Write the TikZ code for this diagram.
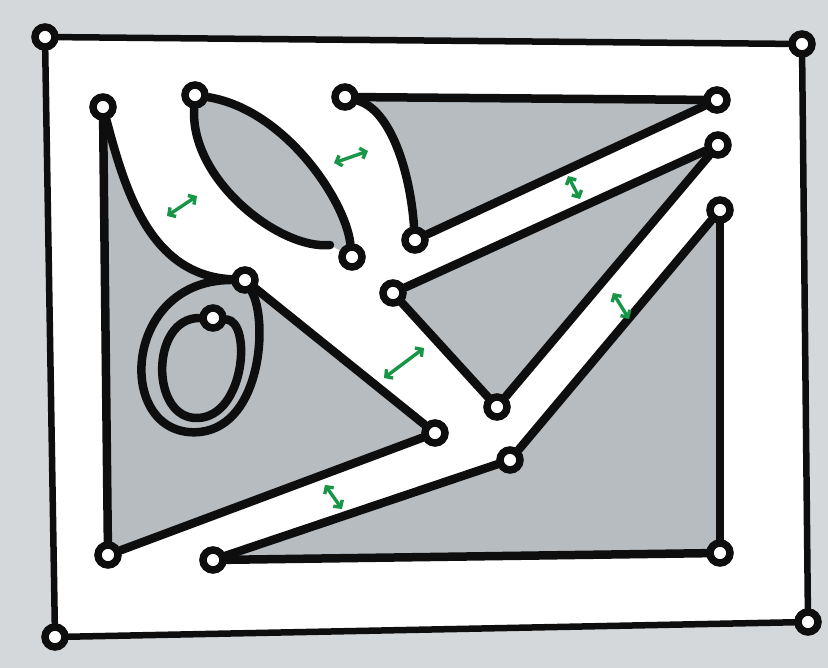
\documentclass[tikz,border=0pt]{standalone}
\usetikzlibrary{arrows.meta,backgrounds}
\definecolor{cink}{RGB}{14,14,14}
\definecolor{cface}{RGB}{182,188,192}
\definecolor{cout}{RGB}{212,216,218}
\definecolor{cgap}{RGB}{24,150,72}

\begin{document}
\begin{tikzpicture}[
  x=1pt,y=-1pt,
  vtx/.style={circle,draw=cink,line width=7.5pt,fill=white,minimum size=20pt,inner sep=0pt},
  edge/.style={cink,line width=8.5pt,line cap=round,line join=round},
  frame/.style={cink,line width=6.5pt,line cap=round},
  face/.style={fill=cface},
  gap/.style={cgap,line width=3.4pt,line cap=round,
    {Straight Barb[length=5pt,width=11pt]}-{Straight Barb[length=5pt,width=11pt]}},
]
\useasboundingbox (0,0) rectangle (828,668);

% ============================ vertices ============================
% outer frame
\node[vtx] (tl) at (45,37) {};
\node[vtx] (tr) at (802,44) {};
\node[vtx] (bl) at (55,637) {};
\node[vtx] (br) at (808,622) {};
% left face with loop
\node[vtx] (a1) at (103,107) {};
\node[vtx] (a2) at (108,555) {};
\node[vtx] (b)  at (245,280) {};
\node[vtx] (a3) at (435,433) {};
\node[vtx] (o)  at (213,318) {};
% lens
\node[vtx] (c1) at (195,95) {};
\node[vtx] (c2) at (352,257) {};
% upper right face
\node[vtx] (d1) at (345,97) {};
\node[vtx] (d2) at (717,100) {};
\node[vtx] (d3) at (415,240) {};
% middle face
\node[vtx] (e1) at (393,293) {};
\node[vtx] (e2) at (718,145) {};
\node[vtx] (e3) at (497,407) {};
% lower right face
\node[vtx] (f1) at (720,210) {};
\node[vtx] (f2) at (720,553) {};
\node[vtx] (f3) at (510,460) {};
\node[vtx] (f4) at (213,560) {};

% ============================ faces (background) ============================
\begin{scope}[on background layer]
  \fill[cout] (0,0) rectangle (828,668);
  \fill[white] (tl.center) -- (tr.center) -- (br.center) -- (bl.center) -- cycle;
  \fill[face] (a1.center) .. controls (125,190) and (150,275) .. (b.center)
     -- (a3.center) -- (a2.center) -- cycle;
  \fill[face] (c1.center) .. controls (285,110) and (345,200) .. (c2.center)
     -- (330,245) .. controls (280,250) and (190,180) .. (c1.center);
  \fill[face] (d1.center) -- (d2.center) -- (d3.center)
     .. controls (410,170) and (390,110) .. (d1.center);
  \fill[face] (e1.center) -- (e2.center) -- (e3.center) -- cycle;
  \fill[face] (f1.center) -- (f2.center) -- (f4.center) -- (f3.center) -- cycle;
\end{scope}

% ============================ edges ============================
\draw[frame] (tl) -- (tr);
\draw[frame] (tr) -- (br);
\draw[frame] (br) -- (bl);
\draw[frame] (bl) -- (tl);

\draw[edge] (a1) -- (a2);
\draw[edge] (a1) .. controls (125,190) and (150,275) .. (b);
\draw[edge] (b) -- (a3);
\draw[edge] (a3) -- (a2);
% teardrop loop and inner ring
\draw[edge] (b) .. controls (120,280) and (115,440) .. (200,432)
   .. controls (262,425) and (268,320) .. (b);
\draw[edge] (o) .. controls (150,318) and (150,420) .. (198,418)
   .. controls (245,416) and (252,322) .. (o);

\draw[edge] (c1) .. controls (285,110) and (345,200) .. (c2);
\draw[edge] (c1) .. controls (190,180) and (280,250) .. (330,245);

\draw[edge] (d1) -- (d2);
\draw[edge] (d1) .. controls (390,110) and (410,170) .. (d3);
\draw[edge] (d3) -- (d2);

\draw[edge] (e1) -- (e2);
\draw[edge] (e1) -- (e3);
\draw[edge] (e3) -- (e2);

\draw[edge] (f1) -- (f2);
\draw[edge] (f1) -- (f3);
\draw[edge] (f3) -- (f4);
\draw[edge] (f4) -- (f2);

% ============================ gap markers ============================
\foreach \n/\xa/\ya/\xb/\yb in {1/167/216/197/196, 2/334/163/368/151,
    3/568/176/580/199, 4/613/293/629/319, 5/384/378/424/348, 6/325/485/342/509}{
  \coordinate (g\n-a) at (\xa,\ya);
  \coordinate (g\n-b) at (\xb,\yb);
  \draw[gap] (g\n-a) -- (g\n-b);
}

\end{tikzpicture}
\end{document}
